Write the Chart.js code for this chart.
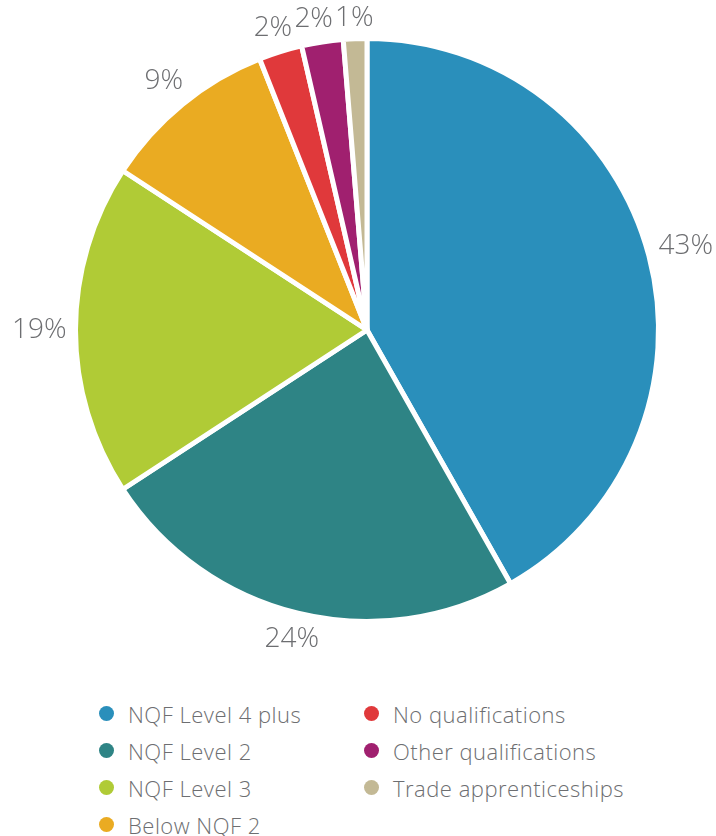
<!DOCTYPE html>
<html>
<head>
<meta charset="utf-8">
<script src="https://cdn.jsdelivr.net/npm/chart.js@4.4.0/dist/chart.umd.min.js"></script>
<style>
  body { margin: 0; background: #fff; font-family: 'Open Sans', Lato, sans-serif; }
  #wrap { position: relative; width: 716px; height: 836px; }
  #chart { position: absolute; left: 0; top: 0; }
  #legend {
    position: absolute; left: 99px; top: 695px;
    display: grid; grid-auto-flow: column;
    grid-template-rows: repeat(4, 37px);
    grid-template-columns: 265px 320px;
  }
  .item { display: flex; align-items: center; font-size: 22px; font-weight: 300; letter-spacing: 0.5px; color: #6d6e71; }
  .dot { width: 15px; height: 15px; border-radius: 50%; margin-right: 14px; flex: none; }
</style>
</head>
<body>
<div id="wrap">
  <canvas id="chart" width="716" height="680"></canvas>
  <div id="legend"></div>
</div>
<script>
const categories = ['NQF Level 4 plus', 'NQF Level 2', 'NQF Level 3', 'Below NQF 2',
  'No qualifications', 'Other qualifications', 'Trade apprenticeships'];
// slice sizes
const shares = [41.8, 24.0, 18.4, 9.8, 2.4, 2.3, 1.3];
// the percentages printed next to the slices
const pctLabels = ['43%', '24%', '19%', '9%', '2%', '2%', '1%'];
const colors = ['#2a8fbb', '#2e8485', '#b0cb36', '#eaab22', '#e0393b', '#a0206f', '#c3b995'];

const textGrey = '#6d6e71';

const outsideLabels = {
  id: 'outsideLabels',
  afterDatasetsDraw(chart) {
    const ctx = chart.ctx;
    const arcs = chart.getDatasetMeta(0).data;
    ctx.save();
    ctx.font = '300 28px "Open Sans", Lato, sans-serif';
    ctx.fillStyle = textGrey;
    ctx.textAlign = 'center';
    ctx.textBaseline = 'middle';
    const h = 22;
    const boxes = arcs.map((arc, i) => {
      const { x, y, startAngle, endAngle, outerRadius } = arc.getProps(
        ['x', 'y', 'startAngle', 'endAngle', 'outerRadius'], true);
      const mid = (startAngle + endAngle) / 2;
      const w = ctx.measureText(pctLabels[i]).width;
      const r = outerRadius + 9 + (w / 2) * Math.abs(Math.cos(mid)) + (h / 2) * Math.abs(Math.sin(mid));
      return { cx: x + Math.cos(mid) * r, cy: y + Math.sin(mid) * r, w };
    });
    // push crowded labels apart, working back from the last slice
    for (let i = boxes.length - 2; i >= 0; i--) {
      const a = boxes[i], b = boxes[i + 1];
      if (Math.abs(a.cy - b.cy) < h) {
        const overlap = (a.cx + a.w / 2 + 2) - (b.cx - b.w / 2);
        if (overlap > 0) a.cx -= overlap;
      }
    }
    boxes.forEach((b, i) => ctx.fillText(pctLabels[i], b.cx, b.cy));
    ctx.restore();
  }
};

const chart = new Chart(document.getElementById('chart').getContext('2d'), {
  type: 'pie',
  data: {
    labels: categories,
    datasets: [{
      data: shares,
      backgroundColor: colors,
      borderColor: '#ffffff',
      borderWidth: 5,
    }],
  },
  options: {
    responsive: false,
    animation: false,
    layout: { padding: { left: 73, top: 36, right: 55, bottom: 56 } },
    plugins: {
      legend: { display: false },
      tooltip: { enabled: false },
    },
  },
  plugins: [outsideLabels],
});

const legend = document.getElementById('legend');
categories.forEach((name, i) => {
  const item = document.createElement('div');
  item.className = 'item';
  item.innerHTML = `<span class="dot" style="background:${colors[i]}"></span>${name}`;
  legend.appendChild(item);
});
</script>
</body>
</html>
